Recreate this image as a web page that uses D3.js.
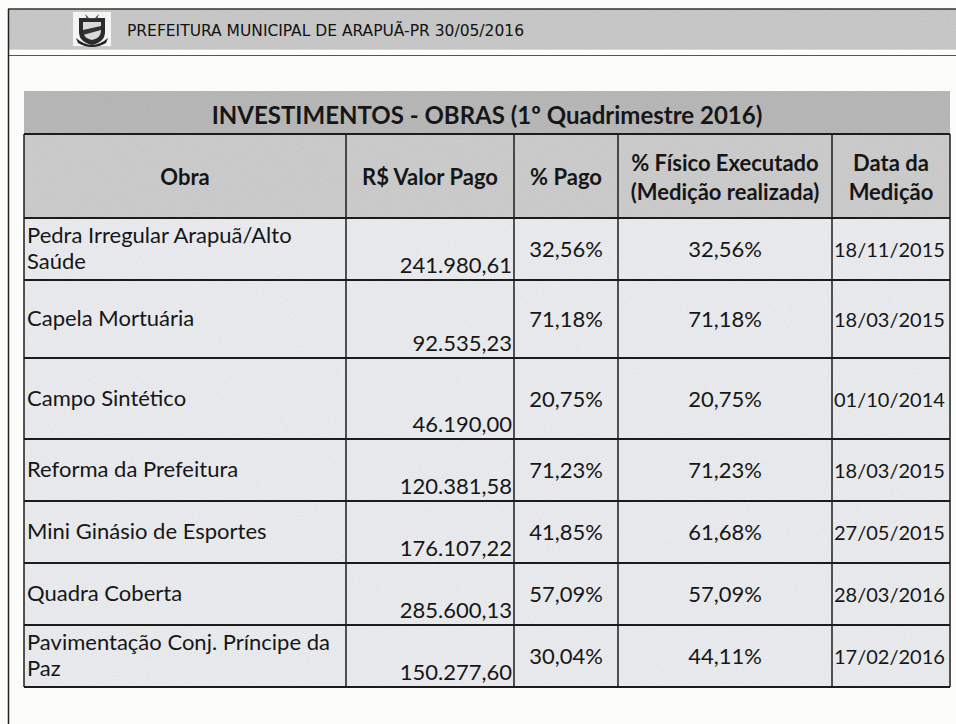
<!DOCTYPE html>
<html>
<head>
<meta charset="utf-8">
<script src="https://cdn.jsdelivr.net/npm/d3@7"></script>
<style>
  body { margin: 0; background: #fcfcfb; }
  svg { display: block; }
</style>
</head>
<body>
<div class="sheet"></div>
<script>
// table data
var pageHeader = "PREFEITURA MUNICIPAL DE ARAPUÃ-PR 30/05/2016";
var tableTitle = "INVESTIMENTOS - OBRAS (1º Quadrimestre 2016)";
var columns = [["Obra"], ["R$ Valor Pago"], ["% Pago"], ["% Físico Executado", "(Medição realizada)"], ["Data da", "Medição"]];
var obras = ["Pedra Irregular Arapuã/Alto Saúde", "Capela Mortuária", "Campo Sintético", "Reforma da Prefeitura",
  "Mini Ginásio de Esportes", "Quadra Coberta", "Pavimentação Conj. Príncipe da Paz"];
var valorPago = [241980.61, 92535.23, 46190.00, 120381.58, 176107.22, 285600.13, 150277.60];
var pctPago = [32.56, 71.18, 20.75, 71.23, 41.85, 57.09, 30.04];
var pctFisico = [32.56, 71.18, 20.75, 71.23, 61.68, 57.09, 44.11];
var dataMedicao = ["18/11/2015", "18/03/2015", "01/10/2014", "18/03/2015", "27/05/2015", "28/03/2016", "17/02/2016"];

// layout
var width = 956, height = 724;
var colEdges = [24, 346, 514, 618, 832, 950];
var titleTop = 91, headTop = 134, bodyTop = 218;
var rowWeights = [62, 78, 81, 62, 62, 62, 62];
var fontBody = "Lato, 'Open Sans', sans-serif";
var ink = "#161616";

var br = d3.formatLocale({ decimal: ",", thousands: ".", grouping: [3], currency: ["R$", ""] });
var fmtValor = br.format(",.2f");
var fmtPct = function (v) { return br.format(".2f")(v) + "%"; };

var rows = obras.map(function (o, i) {
  return { obra: o, valor: valorPago[i], pago: pctPago[i], fisico: pctFisico[i], data: dataMedicao[i] };
});

// y positions of rows from their relative heights
var yTop = {}, yBot = {};
var acc = bodyTop;
rows.forEach(function (d, i) { yTop[d.obra] = acc; acc += rowWeights[i]; yBot[d.obra] = acc; });
var tableBottom = acc;
var yMid = function (d) { return (yTop[d.obra] + yBot[d.obra]) / 2; };

var x = d3.scaleOrdinal().domain(d3.range(6)).range(colEdges);

const svg = d3.select(".sheet").append("svg")
  .attr("width", width).attr("height", height);

// scanner grain
var defs = svg.append("defs");
var grain = defs.append("filter").attr("id", "grain").attr("x", 0).attr("y", 0).attr("width", 1).attr("height", 1);
grain.append("feTurbulence").attr("type", "fractalNoise").attr("baseFrequency", 0.9).attr("numOctaves", 2).attr("seed", 3);
grain.append("feColorMatrix").attr("type", "matrix")
  .attr("values", "0 0 0 0 0  0 0 0 0 0  0 0 0 0 0  0 0 0 0.07 0");
grain.append("feComposite").attr("in2", "SourceGraphic").attr("operator", "in");

function band(x0, y0, w, h, fill) {
  svg.append("rect").attr("x", x0).attr("y", y0).attr("width", w).attr("height", h).attr("fill", fill);
  svg.append("rect").attr("x", x0).attr("y", y0).attr("width", w).attr("height", h).attr("fill", "#000")
    .attr("filter", "url(#grain)");
}

//page frame and header band
band(8, 9, width - 8, 40, "#cdcdcd");
svg.append("line").attr("x1", 8).attr("x2", width).attr("y1", 9).attr("y2", 9).attr("stroke", "#333").attr("stroke-width", 1.5);
svg.append("line").attr("x1", 8).attr("x2", width).attr("y1", 49.5).attr("y2", 49.5).attr("stroke", "#ead6bc").attr("stroke-width", 1);
svg.append("line").attr("x1", 8).attr("x2", width).attr("y1", 55.5).attr("y2", 55.5).attr("stroke", "#555").attr("stroke-width", 1);
svg.append("line").attr("x1", 8.5).attr("x2", 8.5).attr("y1", 9).attr("y2", height).attr("stroke", "#222").attr("stroke-width", 1.5);

// little coat of arms
var logo = svg.append("g").attr("transform", "translate(73,12)");
logo.append("rect").attr("width", 38).attr("height", 34).attr("fill", "#f4f4f2");
logo.append("path").attr("d", "M6,6 L32,6 L32,20 Q32,30 19,33 Q6,30 6,20 Z").attr("fill", "#2b2b2b");
logo.append("path").attr("d", "M10,10 L28,10 L28,19 Q28,26 19,28 Q10,26 10,19 Z").attr("fill", "#d9d9d9");
logo.append("path").attr("d", "M10,18 L28,14 L28,18 L10,23 Z").attr("fill", "#333");
logo.append("path").attr("d", "M12,2 L16,6 L22,6 L26,2 L24,7 L14,7 Z").attr("fill", "#444");
logo.append("path").attr("d", "M3,26 Q19,40 35,26 L33,31 Q19,39 5,31 Z").attr("fill", "#222");

svg.append("text")
  .attr("x", 127).attr("y", 36)
  .attr("textLength", 397).attr("lengthAdjust", "spacingAndGlyphs")
  .style("font-family", "'Liberation Sans Narrow', 'DejaVu Sans Condensed', 'Liberation Sans', sans-serif")
  .style("font-size", "16px").attr("fill", "#111")
  .text(pageHeader);

//title band
band(colEdges[0], titleTop, colEdges[5] - colEdges[0], headTop - titleTop, "#bcbcbc");
svg.append("text")
  .attr("x", (colEdges[0] + colEdges[5]) / 2).attr("y", 124)
  .attr("text-anchor", "middle")
  .style("font-family", fontBody).style("font-weight", "bold").style("font-size", "24px")
  .attr("fill", ink)
  .text(tableTitle);

//header row
band(colEdges[0], headTop, colEdges[5] - colEdges[0], bodyTop - headTop, "#d1d1d1");

var head = svg.selectAll(".head").data(columns).enter().append("text")
  .attr("class", "head")
  .attr("text-anchor", "middle")
  .style("font-family", fontBody).style("font-weight", "bold").style("font-size", "22px")
  .attr("fill", ink);
head.each(function (lines, i) {
  var cx = (x(i) + x(i + 1)) / 2;
  var cy = (headTop + bodyTop) / 2 + 1;
  var start = cy - (lines.length - 1) * 14.5 + 8;
  d3.select(this).selectAll("tspan").data(lines).enter().append("tspan")
    .attr("x", cx).attr("y", function (l, k) { return start + k * 29; })
    .text(function (l) { return l; });
});

//body cells
band(colEdges[0], bodyTop, colEdges[5] - colEdges[0], tableBottom - bodyTop, "#eff1f4");

var row = svg.selectAll(".row").data(rows).enter().append("g").attr("class", "row");

// obra name, wrapped to the column width and centred vertically
row.append("text")
  .style("font-family", fontBody).style("font-size", "22px").attr("fill", ink)
  .each(function (d) {
    var t = d3.select(this), words = d.obra.split(" "), lines = [], cur = "";
    var maxW = x(1) - x(0) - 10;
    words.forEach(function (w) {
      var test = cur ? cur + " " + w : w;
      t.text(test);
      if (this.getComputedTextLength() > maxW && cur) { lines.push(cur); cur = w; } else { cur = test; }
    }, this);
    lines.push(cur);
    t.text(null);
    var first = yMid(d) - (lines.length - 1) * 13 + 7;
    t.selectAll("tspan").data(lines).enter().append("tspan")
      .attr("x", x(0) + 3).attr("y", function (l, k) { return first + k * 26; })
      .text(function (l) { return l; });
  });

// valor pago, right aligned at the bottom of the cell
row.append("text")
  .attr("x", x(2) - 2).attr("y", function (d) { return yBot[d.obra] - 7; })
  .attr("text-anchor", "end")
  .style("font-family", fontBody).style("font-size", "22px").attr("fill", ink)
  .text(function (d) { return fmtValor(d.valor); });

row.append("text")
  .attr("x", (x(2) + x(3)) / 2).attr("y", function (d) { return yMid(d) + 8; })
  .attr("text-anchor", "middle")
  .style("font-family", fontBody).style("font-size", "22px").attr("fill", ink)
  .text(function (d) { return fmtPct(d.pago); });

row.append("text")
  .attr("x", (x(3) + x(4)) / 2).attr("y", function (d) { return yMid(d) + 8; })
  .attr("text-anchor", "middle")
  .style("font-family", fontBody).style("font-size", "22px").attr("fill", ink)
  .text(function (d) { return fmtPct(d.fisico); });

row.append("text")
  .attr("x", x(4) + 2).attr("y", function (d) { return yMid(d) + 8; })
  .style("font-family", fontBody).style("font-size", "20px").attr("fill", ink)
  .text(function (d) { return d.data; });

//grid lines
var hLines = [headTop, bodyTop].concat(rows.map(function (d) { return yBot[d.obra]; }));
svg.selectAll(".hline").data(hLines).enter().append("line")
  .attr("x1", colEdges[0]).attr("x2", colEdges[5])
  .attr("y1", function (d) { return d; }).attr("y2", function (d) { return d; })
  .attr("stroke", "#1c1c1c").attr("stroke-width", 2);

svg.selectAll(".vline").data(d3.range(6)).enter().append("line")
  .attr("x1", function (i) { return x(i); }).attr("x2", function (i) { return x(i); })
  .attr("y1", headTop).attr("y2", tableBottom)
  .attr("stroke", "#1c1c1c").attr("stroke-width", 1.5);
</script>
</body>
</html>
